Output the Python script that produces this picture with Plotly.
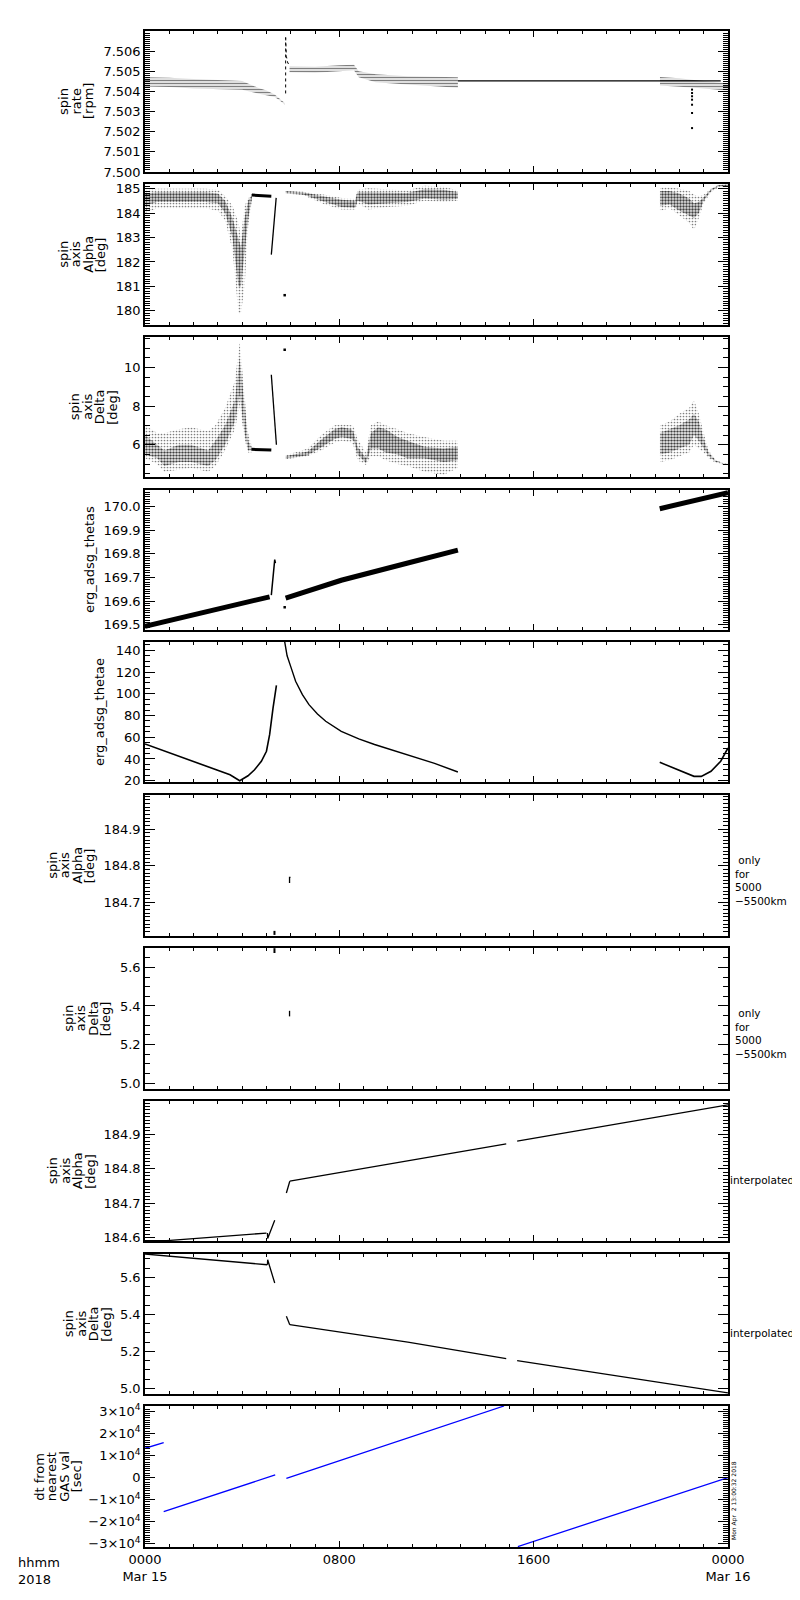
import plotly.graph_objects as go
from plotly.subplots import make_subplots

# time is hours after 2018-03-15 00:00 UT

# ---- panel 1: spin rate [rpm]
rate_a_t = [0, 1, 2, 3, 4, 4.65, 5.0, 5.34, 5.55, 5.75]
rate_a_lo = [7.50425, 7.50422, 7.50415, 7.50410, 7.50408, 7.50390, 7.50382, 7.50372, 7.50355, 7.50335]
rate_a_hi = [7.50470, 7.50468, 7.50462, 7.50458, 7.50452, 7.50418, 7.50405, 7.50385, 7.50362, 7.50342]
rate_jump_t = [5.79, 5.79]
rate_jump_v = [7.5039, 7.50668]
rate_decay_t = [5.79, 5.82, 5.88, 5.99]
rate_decay_v = [7.50668, 7.50574, 7.50541, 7.50525]
rate_b_t = [5.95, 7.0, 8.0, 8.6, 8.8, 9.5, 10.8, 12.88]
rate_b_lo = [7.50495, 7.50493, 7.50500, 7.50505, 7.50470, 7.50445, 7.50435, 7.50418]
rate_b_hi = [7.50525, 7.50522, 7.50530, 7.50532, 7.50500, 7.50485, 7.50475, 7.50470]
rate_flat_t = [12.88, 23.7]
rate_flat_v = [7.50452, 7.50452]
rate_c_t = [21.2, 22.0, 22.5, 23.0, 23.5, 24.0]
rate_c_lo = [7.50430, 7.50425, 7.50420, 7.50415, 7.50410, 7.50405]
rate_c_hi = [7.50472, 7.50466, 7.50458, 7.50450, 7.50445, 7.50440]
rate_drop_t = [22.52, 22.52, 22.52, 22.52, 22.52, 22.52, 22.52]
rate_drop_v = [7.50409, 7.50392, 7.50376, 7.50359, 7.50334, 7.50293, 7.50218]

# ---- panel 2: spin axis alpha [deg]
alp_a_t = [0, 0.5, 1.0, 1.5, 2.0, 2.5, 3.0, 3.3, 3.6, 3.85, 3.95, 4.1, 4.25, 4.4]
alp_a_lo = [184.0, 184.2, 184.2, 184.2, 184.2, 184.2, 184.1, 183.7, 182.5, 179.9, 179.9, 181.0, 183.5, 184.5]
alp_a_hi = [184.95, 185.0, 185.0, 185.0, 185.0, 185.0, 184.95, 184.7, 184.3, 183.6, 183.0, 184.3, 184.6, 184.8]
alp_a_clo = [184.3, 184.45, 184.45, 184.45, 184.45, 184.45, 184.4, 184.0, 183.0, 181.0, 181.0, 182.5, 183.8, 184.6]
alp_a_chi = [184.8, 184.85, 184.85, 184.85, 184.85, 184.85, 184.8, 184.5, 183.8, 183.0, 182.6, 183.8, 184.5, 184.75]
alp_line_t = [4.4, 5.2]
alp_line_v = [184.74, 184.69]
alp_steep_t = [5.2, 5.4]
alp_steep_v = [182.3, 184.62]
alp_dot_t = [5.75]
alp_dot_v = [180.64]
alp_b_t = [5.79, 6.5, 7.4, 8.1, 8.65, 8.75, 9.2, 10.0, 10.8, 11.5, 12.3, 12.88]
alp_b_lo = [184.80, 184.74, 184.35, 184.15, 184.15, 184.40, 184.15, 184.25, 184.30, 184.50, 184.45, 184.50]
alp_b_hi = [184.90, 184.87, 184.75, 184.62, 184.58, 184.95, 185.02, 184.97, 184.92, 185.12, 185.08, 184.92]
alp_b_clo = [184.81, 184.76, 184.45, 184.25, 184.22, 184.50, 184.35, 184.40, 184.45, 184.60, 184.55, 184.58]
alp_b_chi = [184.89, 184.85, 184.68, 184.55, 184.50, 184.85, 184.85, 184.85, 184.82, 184.98, 184.95, 184.85]
alp_c_t = [21.2, 21.6, 22.0, 22.4, 22.6, 22.8, 23.0, 23.3, 23.6, 24.0]
alp_c_lo = [184.1, 184.2, 183.9, 183.6, 183.3, 183.8, 184.4, 184.85, 185.05, 185.10]
alp_c_hi = [185.05, 185.05, 185.0, 184.9, 184.75, 184.7, 184.75, 185.0, 185.15, 185.19]
alp_c_clo = [184.3, 184.35, 184.1, 183.9, 183.8, 184.0, 184.5, 184.9, 185.08, 185.12]
alp_c_chi = [184.9, 184.9, 184.8, 184.6, 184.4, 184.45, 184.65, 184.98, 185.14, 185.17]

# ---- panel 3: spin axis delta [deg]
dec_a_t = [0, 0.5, 0.8, 1.4, 1.9, 2.6, 2.9, 3.3, 3.7, 3.9, 4.1, 4.24, 4.38]
dec_a_lo = [5.3, 5.0, 4.6, 4.7, 4.8, 4.6, 4.9, 5.7, 6.8, 8.0, 6.3, 5.6, 5.6]
dec_a_hi = [7.0, 6.6, 6.6, 6.8, 6.9, 6.7, 7.0, 7.9, 9.3, 11.3, 8.5, 6.6, 6.0]
dec_a_clo = [5.5, 5.3, 4.9, 5.1, 5.1, 4.9, 5.2, 6.0, 7.2, 8.6, 6.6, 5.7, 5.7]
dec_a_chi = [6.5, 6.0, 5.7, 6.0, 6.0, 5.7, 6.2, 7.0, 8.3, 10.5, 7.8, 6.2, 5.9]
dec_line_t = [4.38, 5.2]
dec_line_v = [5.76, 5.72]
dec_steep_t = [5.2, 5.41]
dec_steep_v = [9.62, 6.0]
dec_dot_t = [5.75]
dec_dot_v = [10.91]
dec_b_t = [5.79, 6.2, 6.7, 7.25, 7.8, 8.1, 8.5, 8.6, 8.75, 9.1, 9.3, 9.6, 9.9, 10.4, 10.8, 11.5, 12.3, 12.88]
dec_b_lo = [5.25, 5.3, 5.4, 5.7, 6.1, 6.2, 6.1, 5.9, 5.2, 4.95, 5.4, 5.4, 5.2, 5.0, 4.9, 4.6, 4.45, 4.8]
dec_b_hi = [5.45, 5.6, 5.8, 6.5, 7.0, 7.05, 7.0, 6.9, 6.3, 5.6, 7.0, 7.2, 7.0, 6.8, 6.6, 6.4, 6.2, 6.2]
dec_b_clo = [5.3, 5.35, 5.45, 5.85, 6.3, 6.4, 6.3, 6.2, 5.5, 5.05, 5.8, 5.8, 5.6, 5.5, 5.3, 5.3, 5.1, 5.2]
dec_b_chi = [5.4, 5.5, 5.65, 6.25, 6.8, 6.9, 6.8, 6.6, 5.9, 5.3, 6.6, 6.9, 6.8, 6.4, 6.2, 5.9, 5.8, 5.9]
dec_c_t = [21.2, 21.6, 22.0, 22.4, 22.6, 22.8, 23.0, 23.2, 23.5, 23.8, 24.0]
dec_c_lo = [5.1, 5.2, 5.4, 5.6, 6.0, 5.8, 5.6, 5.3, 5.05, 4.98, 4.98]
dec_c_hi = [7.0, 7.2, 7.6, 7.9, 8.3, 7.6, 6.6, 5.7, 5.2, 5.05, 5.03]
dec_c_clo = [5.5, 5.6, 5.8, 6.0, 6.5, 6.2, 5.8, 5.4, 5.1, 5.0, 5.0]
dec_c_chi = [6.6, 6.8, 7.0, 7.3, 7.6, 7.2, 6.3, 5.6, 5.18, 5.04, 5.02]

# ---- panel 4: erg_adsg_thetas
ths_a_t = [0, 1, 2, 3, 4, 5.13]
ths_a_v = [169.494, 169.518, 169.543, 169.567, 169.592, 169.618]
ths_jump_t = [5.2, 5.34, 5.37]
ths_jump_v = [169.625, 169.775, 169.76]
ths_dot_t = [5.75]
ths_dot_v = [169.574]
ths_b_t = [5.79, 8.08, 10.82, 12.88]
ths_b_v = [169.613, 169.688, 169.761, 169.815]
ths_c_t = [21.19, 24.0]
ths_c_v = [169.990, 170.058]

# ---- panel 5: erg_adsg_thetae
the_a_t = [0, 1.22, 2.59, 3.5, 3.9, 4.24, 4.51, 4.79, 5.0, 5.13, 5.27, 5.41]
the_a_v = [53.8, 44.0, 33.2, 25.5, 20.0, 24.5, 30.1, 37.9, 47.1, 62.4, 86.9, 107.8]
the_b_t = [5.75, 5.85, 6.0, 6.2, 6.48, 6.75, 7.1, 7.44, 8.08, 8.8, 9.45, 10.82, 11.92, 12.88]
the_b_v = [148.0, 135.0, 125.0, 111.5, 99.2, 90.0, 81.5, 74.7, 65.5, 58.5, 53.3, 44.0, 36.0, 28.0]
the_c_t = [21.19, 21.8, 22.2, 22.6, 22.9, 23.3, 23.7, 24.0]
the_c_v = [36.9, 31.1, 27.4, 24.0, 24.0, 28.7, 37.9, 50.1]

# ---- panels 6/7: alpha / delta only for 5000-5500 km
alo_t1 = [5.33, 5.33]
alo_v1 = [184.611, 184.622]
alo_t2 = [5.95, 5.95, 5.99]
alo_v2 = [184.753, 184.768, 184.768]
dlo_t1 = [5.33, 5.33]
dlo_v1 = [5.675, 5.700]
dlo_t2 = [5.95, 5.95]
dlo_v2 = [5.346, 5.375]

# ---- panel 8: interpolated alpha
ain_a_t = [0, 0.9, 2.0, 3.0, 5.0]
ain_a_v = [184.592, 184.592, 184.598, 184.604, 184.614]
ain_s1_t = [5.04, 5.05, 5.34]
ain_s1_v = [184.614, 184.598, 184.651]
ain_s2_t = [5.82, 5.96]
ain_s2_v = [184.730, 184.764]
ain_b_t = [5.96, 10.82, 14.87]
ain_b_v = [184.764, 184.823, 184.872]
ain_c_t = [15.32, 24.0]
ain_c_v = [184.880, 184.985]

# ---- panel 9: interpolated delta
din_a_t = [0, 5.03]
din_a_v = [5.726, 5.668]
din_s1_t = [5.04, 5.05, 5.34]
din_s1_v = [5.668, 5.695, 5.569]
din_s2_t = [5.82, 5.92, 5.96]
din_s2_v = [5.389, 5.36, 5.344]
din_b_t = [5.96, 10.82, 14.87]
din_b_v = [5.344, 5.249, 5.160]
din_c_t = [15.32, 19.88, 24.0]
din_c_v = [5.149, 5.059, 4.975]

# ---- panel 10: dt from nearest GAS val [sec]
dt_segs_t = [[0, 0.77], [0.77, 5.36], [5.82, 14.78], [15.35, 24.0]]
dt_segs_v = [[13260, 15840], [-15380, 1220], [-300, 32400], [-31200, 0]]

# axis labels / ticks
titles = [
    ["spin", "rate", "[rpm]"],
    ["spin", "axis", "Alpha", "[deg]"],
    ["spin", "axis", "Delta", "[deg]"],
    ["erg_adsg_thetas"],
    ["erg_adsg_thetae"],
    ["spin", "axis", "Alpha", "[deg]"],
    ["spin", "axis", "Delta", "[deg]"],
    ["spin", "axis", "Alpha", "[deg]"],
    ["spin", "axis", "Delta", "[deg]"],
    ["dt from", "nearest", "GAS val", "[sec]"],
]
y_ranges = [
    [7.500, 7.507], [179.42, 185.19], [4.33, 11.57], [169.478, 170.069], [18.8, 147.7],
    [184.608, 184.993], [4.969, 5.701], [184.591, 184.996], [4.969, 5.726], [-31400, 32400],
]
y_ticks = [
    [7.500, 7.501, 7.502, 7.503, 7.504, 7.505, 7.506],
    [180, 181, 182, 183, 184, 185],
    [6, 8, 10],
    [169.5, 169.6, 169.7, 169.8, 169.9, 170.0],
    [20, 40, 60, 80, 100, 120, 140],
    [184.7, 184.8, 184.9],
    [5.0, 5.2, 5.4, 5.6],
    [184.6, 184.7, 184.8, 184.9],
    [5.0, 5.2, 5.4, 5.6],
    [-30000, -20000, -10000, 0, 10000, 20000, 30000],
]
y_ticktext = [
    ["7.500", "7.501", "7.502", "7.503", "7.504", "7.505", "7.506"],
    ["180", "181", "182", "183", "184", "185"],
    ["6", "8", "10"],
    ["169.5", "169.6", "169.7", "169.8", "169.9", "170.0"],
    ["20", "40", "60", "80", "100", "120", "140"],
    ["184.7", "184.8", "184.9"],
    ["5.0", "5.2", "5.4", "5.6"],
    ["184.6", "184.7", "184.8", "184.9"],
    ["5.0", "5.2", "5.4", "5.6"],
    ["−3×10<sup>4</sup>", "−2×10<sup>4</sup>", "−1×10<sup>4</sup>", "0",
     "1×10<sup>4</sup>", "2×10<sup>4</sup>", "3×10<sup>4</sup>"],
]
y_minor = [0.0001, 0.1, 0.5, 0.01, 5, 0.01, 0.05, 0.01, 0.05, 1000]
x_tickvals = [0, 8, 16, 24]
x_ticktext = ["0000<br>Mar 15", "0800", "1600", "0000<br>Mar 16"]

# layout (pixels of the 800x1600 page)
W, H = 800, 1600
X0, X1 = 137, 720
panel_top = [23, 176, 329, 482, 634, 787, 940, 1093, 1246, 1398]
panel_bot = [164, 317, 469, 622, 774, 928, 1081, 1233, 1386, 1539]
title_cx = [68, 74, 85, 81, 92, 63, 79, 63, 79, 50]
FONT = "DejaVu Sans"

fig = make_subplots(rows=10, cols=1, shared_xaxes=True)


def line(row, t, v, width=1.2, color="black", dash=None):
    fig.add_trace(go.Scatter(x=t, y=v, mode="lines",
                             line=dict(color=color, width=width, dash=dash),
                             hoverinfo="skip"), row=row, col=1)


def dots(row, t, v, size=2.5):
    fig.add_trace(go.Scatter(x=t, y=v, mode="markers",
                             marker=dict(color="black", size=size, symbol="square"),
                             hoverinfo="skip"), row=row, col=1)


def band(row, t, lo, hi, shape=".", size=3, solidity=0.3):
    fig.add_trace(go.Scatter(x=t, y=lo, mode="lines", line=dict(width=0, color="black"),
                             hoverinfo="skip"), row=row, col=1)
    fig.add_trace(go.Scatter(x=t, y=hi, mode="lines", line=dict(width=0, color="black"),
                             fill="tonexty", fillcolor="rgba(255,255,255,0)",
                             fillpattern=dict(shape=shape, size=size, solidity=solidity,
                                              fgcolor="black", bgcolor="rgba(255,255,255,0)"),
                             hoverinfo="skip"), row=row, col=1)


# panel 1
band(1, rate_a_t, rate_a_lo, rate_a_hi, shape="-", size=3, solidity=0.5)
line(1, rate_jump_t, rate_jump_v, width=1, dash="dot")
line(1, rate_decay_t, rate_decay_v, width=1, dash="dot")
band(1, rate_b_t, rate_b_lo, rate_b_hi, shape="-", size=3, solidity=0.5)
band(1, rate_c_t, rate_c_lo, rate_c_hi, shape="-", size=3, solidity=0.5)
line(1, rate_flat_t, rate_flat_v, width=1.2)
dots(1, rate_drop_t, rate_drop_v, size=2)

# panel 2
band(2, alp_a_t, alp_a_lo, alp_a_hi, solidity=0.25)
band(2, alp_a_t, alp_a_clo, alp_a_chi, solidity=0.7)
line(2, alp_line_t, alp_line_v, width=3)
line(2, alp_steep_t, alp_steep_v, width=1.3)
dots(2, alp_dot_t, alp_dot_v)
band(2, alp_b_t, alp_b_lo, alp_b_hi, solidity=0.25)
band(2, alp_b_t, alp_b_clo, alp_b_chi, solidity=0.7)
band(2, alp_c_t, alp_c_lo, alp_c_hi, solidity=0.25)
band(2, alp_c_t, alp_c_clo, alp_c_chi, solidity=0.7)

# panel 3
band(3, dec_a_t, dec_a_lo, dec_a_hi, solidity=0.25)
band(3, dec_a_t, dec_a_clo, dec_a_chi, solidity=0.65)
line(3, dec_line_t, dec_line_v, width=3)
line(3, dec_steep_t, dec_steep_v, width=1.3)
dots(3, dec_dot_t, dec_dot_v)
band(3, dec_b_t, dec_b_lo, dec_b_hi, solidity=0.25)
band(3, dec_b_t, dec_b_clo, dec_b_chi, solidity=0.7)
band(3, dec_c_t, dec_c_lo, dec_c_hi, solidity=0.25)
band(3, dec_c_t, dec_c_clo, dec_c_chi, solidity=0.65)

# panel 4
line(4, ths_a_t, ths_a_v, width=5)
line(4, ths_jump_t, ths_jump_v, width=1.5)
dots(4, ths_dot_t, ths_dot_v)
line(4, ths_b_t, ths_b_v, width=5)
line(4, ths_c_t, ths_c_v, width=5)

# panel 5
line(5, the_a_t, the_a_v, width=1.6)
line(5, the_b_t, the_b_v, width=1.4)
line(5, the_c_t, the_c_v, width=1.6)

# panels 6, 7
line(6, alo_t1, alo_v1, width=2)
line(6, alo_t2, alo_v2, width=1.3)
line(7, dlo_t1, dlo_v1, width=2)
line(7, dlo_t2, dlo_v2, width=1.3)

# panel 8
for t, v in [(ain_a_t, ain_a_v), (ain_s1_t, ain_s1_v), (ain_s2_t, ain_s2_v),
             (ain_b_t, ain_b_v), (ain_c_t, ain_c_v)]:
    line(8, t, v, width=1.3)

# panel 9
for t, v in [(din_a_t, din_a_v), (din_s1_t, din_s1_v), (din_s2_t, din_s2_v),
             (din_b_t, din_b_v), (din_c_t, din_c_v)]:
    line(9, t, v, width=1.3)

# panel 10
for t, v in zip(dt_segs_t, dt_segs_v):
    line(10, t, v, width=1.3, color="#0000ff")

tick_font = dict(family=FONT, size=13, color="black")
for i in range(10):
    n = i + 1
    yd = dict(
        domain=[1 - panel_bot[i] / H, 1 - panel_top[i] / H], automargin=False,
        range=y_ranges[i], tickmode="array", tickvals=y_ticks[i], ticktext=y_ticktext[i],
        ticks="inside", ticklen=10, tickwidth=1.2, tickcolor="black",
        showline=True, linecolor="black", linewidth=1.5, mirror="allticks",
        showgrid=False, zeroline=False, tickfont=tick_font,
        minor=dict(ticks="inside", ticklen=5, tickwidth=1, tickcolor="black",
                   dtick=y_minor[i], tick0=0, showgrid=False),
    )
    fig.layout[f"yaxis{n}"].update(yd)

    xd = dict(
        domain=[X0 / W, X1 / W], range=[0, 24], automargin=False, tickmode="array",
        tickvals=x_tickvals, ticktext=x_ticktext, ticks="inside", ticklen=6,
        tickwidth=1.2, tickcolor="black", showline=True, linecolor="black",
        linewidth=1.5, mirror="allticks", showgrid=False, zeroline=False,
        showticklabels=(n == 10), tickfont=tick_font,
        minor=dict(ticks="inside", ticklen=3, tickwidth=1, tickcolor="black",
                   dtick=1, tick0=0, showgrid=False),
    )
    fig.layout[f"xaxis{n}"].update(xd)

annotations = []
# y titles, one annotation per line, stacked tightly like the original
for i, lines in enumerate(titles):
    cy = 1 - (panel_top[i] + panel_bot[i]) / 2 / H
    k = len(lines)
    for j, txt in enumerate(lines):
        cx = title_cx[i] + (j - (k - 1) / 2) * 12.5
        annotations.append(dict(text=txt, x=cx / W, y=cy, xref="paper", yref="paper",
                                xanchor="center", yanchor="middle", textangle=-90,
                                showarrow=False, font=dict(family=FONT, size=13)))

# right-hand notes
for i in (5, 6):
    annotations.append(dict(text="&nbsp;only<br>for<br>5000<br>−5500km", x=725 / W,
                            y=1 - (panel_top[i] + 85) / H, xref="paper", yref="paper",
                            xanchor="left", yanchor="middle", align="left",
                            showarrow=False, font=dict(family=FONT, size=10.5)))
for i in (7, 8):
    annotations.append(dict(text="interpolated", x=720 / W, y=1 - (panel_top[i] + 79) / H,
                            xref="paper", yref="paper", xanchor="left", yanchor="middle",
                            showarrow=False, font=dict(family=FONT, size=10.5)))

annotations.append(dict(text="hhmm<br>2018", x=8 / W, y=1 - 1545 / H, xref="paper",
                        yref="paper", xanchor="left", yanchor="top", align="left",
                        showarrow=False, font=dict(family=FONT, size=13)))
annotations.append(dict(text="Mon Apr  2 13:00:32 2018", x=726 / W, y=1 - 1493 / H,
                        xref="paper", yref="paper", xanchor="center", yanchor="middle",
                        textangle=-90, showarrow=False, font=dict(family=FONT, size=6)))

fig.update_layout(
    width=W, height=H, margin=dict(l=0, r=0, t=0, b=0),
    paper_bgcolor="white", plot_bgcolor="white", showlegend=False,
    font=dict(family=FONT, size=13, color="black"), annotations=annotations,
)

fig.write_html("out.html")
